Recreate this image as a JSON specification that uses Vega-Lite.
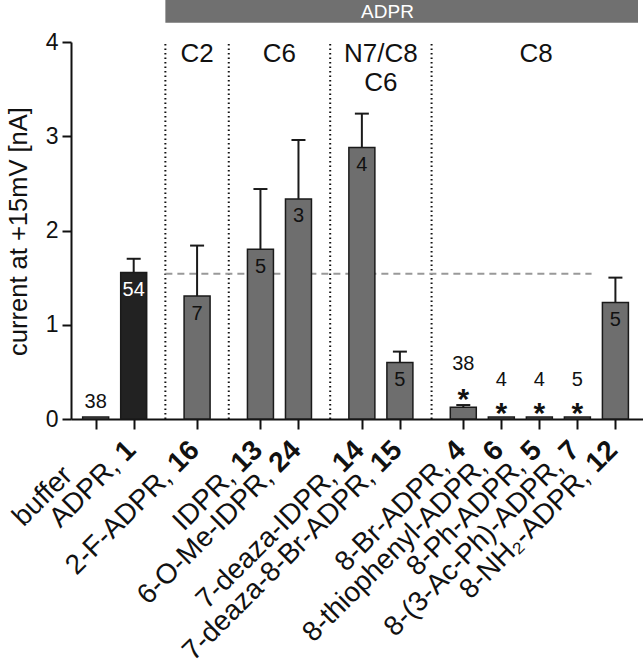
{
  "$schema": "https://vega.github.io/schema/vega-lite/v6.json",
  "autosize": {"type": "none"},
  "padding": {"left": 71, "top": 42, "right": 0, "bottom": 246},
  "width": 572,
  "height": 377,
  "config": {
    "view": {"stroke": null},
    "font": "Liberation Sans",
    "axis": {"grid": false, "domainColor": "#111111", "tickColor": "#111111", "domainWidth": 2, "tickWidth": 2, "labelColor": "#111111", "titleColor": "#111111", "labelFont": "Liberation Sans", "titleFont": "Liberation Sans", "titleFontWeight": "normal"},
    "axisY": {"tickSize": 9, "labelFontSize": 23, "labelPadding": 4, "titleFontSize": 25.5},
    "axisX": {"tickSize": 10, "labels": false}
  },
  "datasets": {
    "compounds": [
      {"pos": 0, "name": "buffer", "num": "", "type": "control", "mean": 0.02, "upper": null, "n": "38", "star": false},
      {"pos": 1, "name": "ADPR,", "num": "1", "type": "reference", "mean": 1.555, "upper": 1.70, "n": "54", "star": false},
      {"pos": 2.667, "name": "2-F-ADPR,", "num": "16", "type": "analog", "mean": 1.305, "upper": 1.84, "n": "7", "star": false},
      {"pos": 4.333, "name": "IDPR,", "num": "13", "type": "analog", "mean": 1.80, "upper": 2.44, "n": "5", "star": false},
      {"pos": 5.333, "name": "6-O-Me-IDPR,", "num": "24", "type": "analog", "mean": 2.335, "upper": 2.96, "n": "3", "star": false},
      {"pos": 7, "name": "7-deaza-IDPR,", "num": "14", "type": "analog", "mean": 2.88, "upper": 3.24, "n": "4", "star": false},
      {"pos": 8, "name": "7-deaza-8-Br-ADPR,", "num": "15", "type": "analog", "mean": 0.60, "upper": 0.715, "n": "5", "star": false},
      {"pos": 9.667, "name": "8-Br-ADPR,", "num": "4", "type": "analog", "mean": 0.124, "upper": 0.148, "n": "38", "star": true},
      {"pos": 10.667, "name": "8-thiophenyl-ADPR,", "num": "6", "type": "analog", "mean": 0.02, "upper": null, "n": "4", "star": true},
      {"pos": 11.667, "name": "8-Ph-ADPR,", "num": "5", "type": "analog", "mean": 0.02, "upper": null, "n": "4", "star": true},
      {"pos": 12.667, "name": "8-(3-Ac-Ph)-ADPR,", "num": "7", "type": "analog", "mean": 0.02, "upper": null, "n": "5", "star": true},
      {"pos": 13.667, "name": "8-NH₂-ADPR,", "num": "12", "type": "analog", "mean": 1.235, "upper": 1.50, "n": "5", "star": false}
    ],
    "separators": [{"pos": 1.833}, {"pos": 3.5}, {"pos": 6.167}, {"pos": 8.833}],
    "groups": [
      {"pos": 2.667, "label": "C2"},
      {"pos": 4.833, "label": "C6"},
      {"pos": 7.5, "label": "N7/C8\nC6"},
      {"pos": 11.58, "label": "C8"}
    ],
    "reference": [{"start": 1.833, "end": 13.04, "level": 1.54}],
    "header": [{"start": 1.833, "end": 14.261, "bottom": 4.205, "top": 4.7, "label": "ADPR", "labelPos": 7.673, "labelLevel": 4.313}]
  },
  "layer": [
    {
      "data": {"name": "header"},
      "mark": {"type": "rect", "color": "#707070", "clip": false},
      "encoding": {
        "x": {"field": "start", "type": "quantitative", "scale": {"domain": [-0.517, 14.261], "nice": false, "zero": false}},
        "x2": {"field": "end"},
        "y": {"field": "bottom", "type": "quantitative", "scale": {"domain": [0, 4], "nice": false}},
        "y2": {"field": "top"}
      }
    },
    {
      "data": {"name": "header"},
      "mark": {"type": "text", "color": "white", "fontSize": 19, "align": "center", "baseline": "middle"},
      "encoding": {
        "x": {"field": "labelPos", "type": "quantitative"},
        "y": {"field": "labelLevel", "type": "quantitative"},
        "text": {"field": "label"}
      }
    },
    {
      "data": {"name": "separators"},
      "mark": {"type": "rule", "color": "#111111", "strokeWidth": 2, "strokeDash": [1.5, 3]},
      "encoding": {
        "x": {"field": "pos", "type": "quantitative"},
        "y": {"datum": 0, "type": "quantitative"},
        "y2": {"datum": 4}
      }
    },
    {
      "data": {"name": "groups"},
      "mark": {"type": "text", "fontSize": 26, "align": "center", "baseline": "top", "dy": -1, "lineBreak": "\n", "lineHeight": 29, "color": "#111111"},
      "encoding": {
        "x": {"field": "pos", "type": "quantitative"},
        "y": {"datum": 4, "type": "quantitative"},
        "text": {"field": "label"}
      }
    },
    {
      "data": {"name": "reference"},
      "mark": {"type": "rule", "color": "#999999", "strokeWidth": 2, "strokeDash": [7, 5]},
      "encoding": {
        "x": {"field": "start", "type": "quantitative"},
        "x2": {"field": "end"},
        "y": {"field": "level", "type": "quantitative"}
      }
    },
    {
      "data": {"name": "compounds"},
      "mark": {"type": "bar", "orient": "vertical", "size": 26, "stroke": "#1a1a1a", "strokeWidth": 1.5},
      "encoding": {
        "x": {"field": "pos", "type": "quantitative", "scale": {"domain": [-0.517, 14.261], "nice": false, "zero": false},
          "axis": {"values": [0, 1, 2.667, 4.333, 5.333, 7, 8, 9.667, 10.667, 11.667, 12.667, 13.667], "labels": false, "ticks": true, "tickSize": 10, "title": null, "domain": true}},
        "y": {"field": "mean", "type": "quantitative", "scale": {"domain": [0, 4], "nice": false},
          "axis": {"values": [0, 1, 2, 3, 4], "format": "d", "tickSize": 9, "labelFontSize": 23, "labelPadding": 4, "title": "current at +15mV [nA]", "titleFontSize": 25.5, "titleX": -52.5, "titleY": 189, "titleBaseline": "middle", "titleAlign": "center", "titleAngle": -90}},
        "fill": {"field": "type", "type": "nominal", "scale": {"domain": ["control", "reference", "analog"], "range": ["#6e6e6e", "#222222", "#6e6e6e"]}, "legend": null}
      }
    },
    {
      "data": {"name": "compounds"},
      "transform": [{"filter": "datum.upper != null"}],
      "mark": {"type": "rule", "color": "#1a1a1a", "strokeWidth": 2},
      "encoding": {
        "x": {"field": "pos", "type": "quantitative"},
        "y": {"field": "mean", "type": "quantitative"},
        "y2": {"field": "upper"}
      }
    },
    {
      "data": {"name": "compounds"},
      "transform": [{"filter": "datum.upper != null"}],
      "mark": {"type": "point", "shape": "M-1,0L1,0", "size": 196, "filled": false, "stroke": "#1a1a1a", "strokeWidth": 2, "opacity": 1},
      "encoding": {
        "x": {"field": "pos", "type": "quantitative"},
        "y": {"field": "upper", "type": "quantitative"}
      }
    },
    {
      "data": {"name": "compounds"},
      "transform": [{"filter": "datum.mean > 0.3"}],
      "mark": {"type": "text", "fontSize": 20, "align": "center", "baseline": "middle", "dy": 17.5},
      "encoding": {
        "x": {"field": "pos", "type": "quantitative"},
        "y": {"field": "mean", "type": "quantitative"},
        "text": {"field": "n"},
        "color": {"condition": {"test": "datum.type === 'reference'", "value": "white"}, "value": "#111111"}
      }
    },
    {
      "data": {"name": "compounds"},
      "transform": [{"filter": "!datum.star && datum.mean <= 0.3"}],
      "mark": {"type": "text", "fontSize": 20, "align": "center", "baseline": "middle", "dy": -15, "color": "#111111"},
      "encoding": {
        "x": {"field": "pos", "type": "quantitative"},
        "y": {"field": "mean", "type": "quantitative"},
        "text": {"field": "n"}
      }
    },
    {
      "data": {"name": "compounds"},
      "transform": [{"filter": "datum.star && datum.upper == null"}],
      "mark": {"type": "text", "fontSize": 20, "align": "center", "baseline": "middle", "dy": -37, "color": "#111111"},
      "encoding": {
        "x": {"field": "pos", "type": "quantitative"},
        "y": {"field": "mean", "type": "quantitative"},
        "text": {"field": "n"}
      }
    },
    {
      "data": {"name": "compounds"},
      "transform": [{"filter": "datum.star && datum.upper != null"}],
      "mark": {"type": "text", "fontSize": 20, "align": "center", "baseline": "middle", "dy": -41, "color": "#111111"},
      "encoding": {
        "x": {"field": "pos", "type": "quantitative"},
        "y": {"field": "upper", "type": "quantitative"},
        "text": {"field": "n"}
      }
    },
    {
      "data": {"name": "compounds"},
      "transform": [{"filter": "datum.star && datum.upper == null"}],
      "mark": {"type": "text", "fontSize": 30, "fontWeight": "bold", "align": "center", "baseline": "middle", "dy": -3, "color": "#111111", "text": "*"},
      "encoding": {
        "x": {"field": "pos", "type": "quantitative"},
        "y": {"field": "mean", "type": "quantitative"}
      }
    },
    {
      "data": {"name": "compounds"},
      "transform": [{"filter": "datum.star && datum.upper != null"}],
      "mark": {"type": "text", "fontSize": 30, "fontWeight": "bold", "align": "center", "baseline": "middle", "dy": -5, "color": "#111111", "text": "*"},
      "encoding": {
        "x": {"field": "pos", "type": "quantitative"},
        "y": {"field": "upper", "type": "quantitative"}
      }
    },
    {
      "data": {"name": "compounds"},
      "transform": [{"filter": "datum.num != ''"}],
      "mark": {"type": "text", "fontSize": 28, "fontWeight": "bold", "angle": -45, "align": "right", "baseline": "middle", "dx": -20.5, "dy": 17.7, "color": "#111111"},
      "encoding": {
        "x": {"field": "pos", "type": "quantitative"},
        "y": {"datum": 0, "type": "quantitative"},
        "text": {"field": "num"}
      }
    },
    {
      "data": {"name": "compounds"},
      "transform": [{"filter": "length(datum.num) == 1"}],
      "mark": {"type": "text", "fontSize": 28, "angle": -45, "align": "right", "baseline": "middle", "dx": -43.9, "dy": 17.7, "color": "#111111"},
      "encoding": {
        "x": {"field": "pos", "type": "quantitative"},
        "y": {"datum": 0, "type": "quantitative"},
        "text": {"field": "name"}
      }
    },
    {
      "data": {"name": "compounds"},
      "transform": [{"filter": "length(datum.num) == 2"}],
      "mark": {"type": "text", "fontSize": 28, "angle": -45, "align": "right", "baseline": "middle", "dx": -59.4, "dy": 17.7, "color": "#111111"},
      "encoding": {
        "x": {"field": "pos", "type": "quantitative"},
        "y": {"datum": 0, "type": "quantitative"},
        "text": {"field": "name"}
      }
    },
    {
      "data": {"name": "compounds"},
      "transform": [{"filter": "datum.num == ''"}],
      "mark": {"type": "text", "fontSize": 28, "angle": -45, "align": "right", "baseline": "middle", "dx": -56.5, "dy": 17.7, "color": "#111111"},
      "encoding": {
        "x": {"field": "pos", "type": "quantitative"},
        "y": {"datum": 0, "type": "quantitative"},
        "text": {"field": "name"}
      }
    }
  ]
}
